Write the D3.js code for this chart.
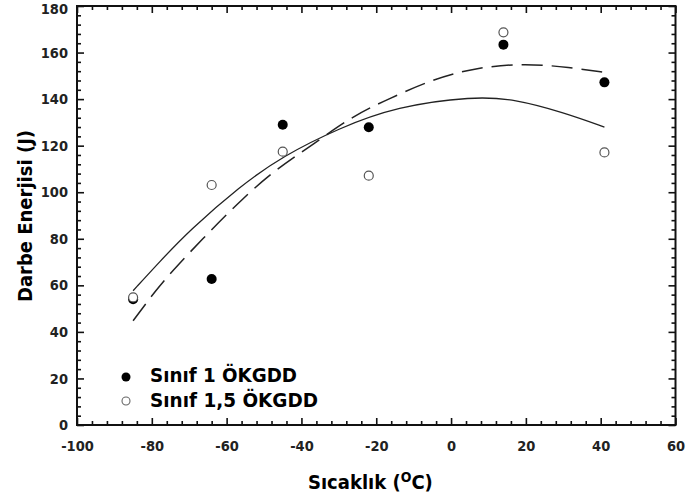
<!DOCTYPE html>
<html>
<head>
<meta charset="utf-8">
<script src="https://cdn.jsdelivr.net/npm/d3@7"></script>
<style>
  html, body { margin: 0; padding: 0; background: #fff; }
  svg { display: block; }
</style>
</head>
<body>
<svg id="chart" width="686" height="501"></svg>
<script>
// ---- data ----
const temperatures = [-85, -64, -45, -22, 14, 41];
const sinif1 = [54, 62.7, 129, 127.9, 163.4, 147.2];        // filled circles
const sinif15 = [54.8, 103.1, 117.4, 107.1, 168.7, 117.1];  // open circles

const solidFitX = [-85, -78, -70, -56.5, -45, -30, -14.6, 6, 17, 30, 41];
const solidFitY = [57.7, 70, 83.5, 102.5, 115.5, 127.5, 136.8, 141.2, 140, 134.3, 128];

const dashedFitX = [-85, -78.7, -73.4, -64, -55.6, -46.7, -36.9, -26.2, -16.4, -4.8, 6.7, 20.1, 31.7, 41];
const dashedFitY = [44.8, 58.4, 68.2, 84, 97.5, 110, 120.5, 132.9, 140.3, 148.6, 153.6, 155.4, 153.6, 151.5];

const xMajorTicks = [-100, -80, -60, -40, -20, 0, 20, 40, 60];
const yMajorTicks = [0, 20, 40, 60, 80, 100, 120, 140, 160, 180];
const minorStep = 4;

const legendLabels = ["Sınıf 1 ÖKGDD", "Sınıf 1,5 ÖKGDD"];
const xTitle = "Sıcaklık (";
const yTitle = "Darbe Enerjisi (J)";

// ---- layout ----
const svg = d3.select("#chart");
const L = 77, R = 675.5, T = 6, B = 425;
const x = d3.scaleLinear().domain([-100, 60]).range([L, R]);
const y = d3.scaleLinear().domain([0, 180]).range([B, T]);

const xMinor = d3.range(-100, 60.001, minorStep).filter(v => !xMajorTicks.includes(v));
const yMinor = d3.range(0, 180.001, minorStep).filter(v => !yMajorTicks.includes(v));

const tickFont = "'DejaVu Sans Condensed', 'DejaVu Sans', sans-serif";
const boldFont = "'DejaVu Sans Condensed', 'DejaVu Sans', sans-serif";
const plainFormat = d => String(d);

function styleAxis(g) {
  g.select(".domain").remove();
  g.selectAll(".tick line").attr("stroke", "#111").attr("stroke-width", 1.6);
  g.selectAll(".tick text").attr("fill", "#222").style("font-family", tickFont)
    .style("font-size", "14.5px").style("font-weight", "bold");
}

// bottom axis
svg.append("g").attr("transform", `translate(0,${B})`)
  .call(d3.axisBottom(x).tickValues(xMajorTicks).tickSize(-7).tickPadding(16).tickFormat(plainFormat))
  .call(styleAxis);
svg.append("g").attr("transform", `translate(0,${B})`)
  .call(d3.axisBottom(x).tickValues(xMinor).tickSize(-4).tickFormat(""))
  .call(styleAxis);
// top axis (mirror)
svg.append("g").attr("transform", `translate(0,${T})`)
  .call(d3.axisTop(x).tickValues(xMajorTicks).tickSize(-7).tickFormat(""))
  .call(styleAxis);
svg.append("g").attr("transform", `translate(0,${T})`)
  .call(d3.axisTop(x).tickValues(xMinor).tickSize(-4).tickFormat(""))
  .call(styleAxis);
// left axis
const leftAxis = svg.append("g").attr("transform", `translate(${L},0)`)
  .call(d3.axisLeft(y).tickValues(yMajorTicks).tickSize(-7).tickPadding(9).tickFormat(plainFormat))
  .call(styleAxis);
// keep the top label inside the picture
leftAxis.selectAll(".tick text").filter(d => d === 180).attr("dy", "0.5em");
svg.append("g").attr("transform", `translate(${L},0)`)
  .call(d3.axisLeft(y).tickValues(yMinor).tickSize(-4).tickFormat(""))
  .call(styleAxis);
// right axis (mirror)
svg.append("g").attr("transform", `translate(${R},0)`)
  .call(d3.axisRight(y).tickValues(yMajorTicks).tickSize(-7).tickFormat(""))
  .call(styleAxis);
svg.append("g").attr("transform", `translate(${R},0)`)
  .call(d3.axisRight(y).tickValues(yMinor).tickSize(-4).tickFormat(""))
  .call(styleAxis);

// frame
svg.append("rect").attr("x", L).attr("y", T).attr("width", R - L).attr("height", B - T)
  .attr("fill", "none").attr("stroke", "#111").attr("stroke-width", 2);

// fit curves
const line = d3.line().x(d => x(d[0])).y(d => y(d[1])).curve(d3.curveBasis);
svg.append("path").datum(solidFitX.map((v, i) => [v, solidFitY[i]]))
  .attr("d", line).attr("fill", "none").attr("stroke", "#222").attr("stroke-width", 1.3);
svg.append("path").datum(dashedFitX.map((v, i) => [v, dashedFitY[i]]))
  .attr("d", line).attr("fill", "none").attr("stroke", "#222").attr("stroke-width", 1.5)
  .attr("stroke-dasharray", "21,9");

// points
svg.append("g").selectAll("circle").data(temperatures.map((t, i) => [t, sinif1[i]]))
  .join("circle").attr("cx", d => x(d[0])).attr("cy", d => y(d[1])).attr("r", 5)
  .attr("fill", "#000");
svg.append("g").selectAll("circle").data(temperatures.map((t, i) => [t, sinif15[i]]))
  .join("circle").attr("cx", d => x(d[0])).attr("cy", d => y(d[1])).attr("r", 4.5)
  .attr("fill", "#fff").attr("stroke", "#555").attr("stroke-width", 1.2);

// legend
const lg = svg.append("g");
lg.append("circle").attr("cx", 126).attr("cy", 377).attr("r", 4.5).attr("fill", "#000");
lg.append("circle").attr("cx", 126).attr("cy", 401).attr("r", 4).attr("fill", "#fff")
  .attr("stroke", "#666").attr("stroke-width", 1.1);
lg.selectAll("text").data(legendLabels).join("text")
  .attr("x", 150).attr("y", (d, i) => 382 + i * 24.5)
  .attr("textLength", (d, i) => i === 0 ? 147 : 168).attr("lengthAdjust", "spacingAndGlyphs")
  .style("font-family", boldFont).style("font-weight", "bold").style("font-size", "20px")
  .attr("fill", "#000").text(d => d);

// axis titles
const xt = svg.append("text").attr("x", 308).attr("y", 489)
  .style("font-family", boldFont).style("font-weight", "bold").style("font-size", "20px")
  .attr("fill", "#000");
xt.append("tspan").text(xTitle);
xt.append("tspan").attr("dy", -7).style("font-size", "14px").text("O");
xt.append("tspan").attr("dy", 7).text("C)");

svg.append("text").attr("transform", "translate(32,216) rotate(-90)")
  .attr("text-anchor", "middle")
  .style("font-family", boldFont).style("font-weight", "bold").style("font-size", "20px")
  .attr("fill", "#000").text(yTitle);
</script>
</body>
</html>
